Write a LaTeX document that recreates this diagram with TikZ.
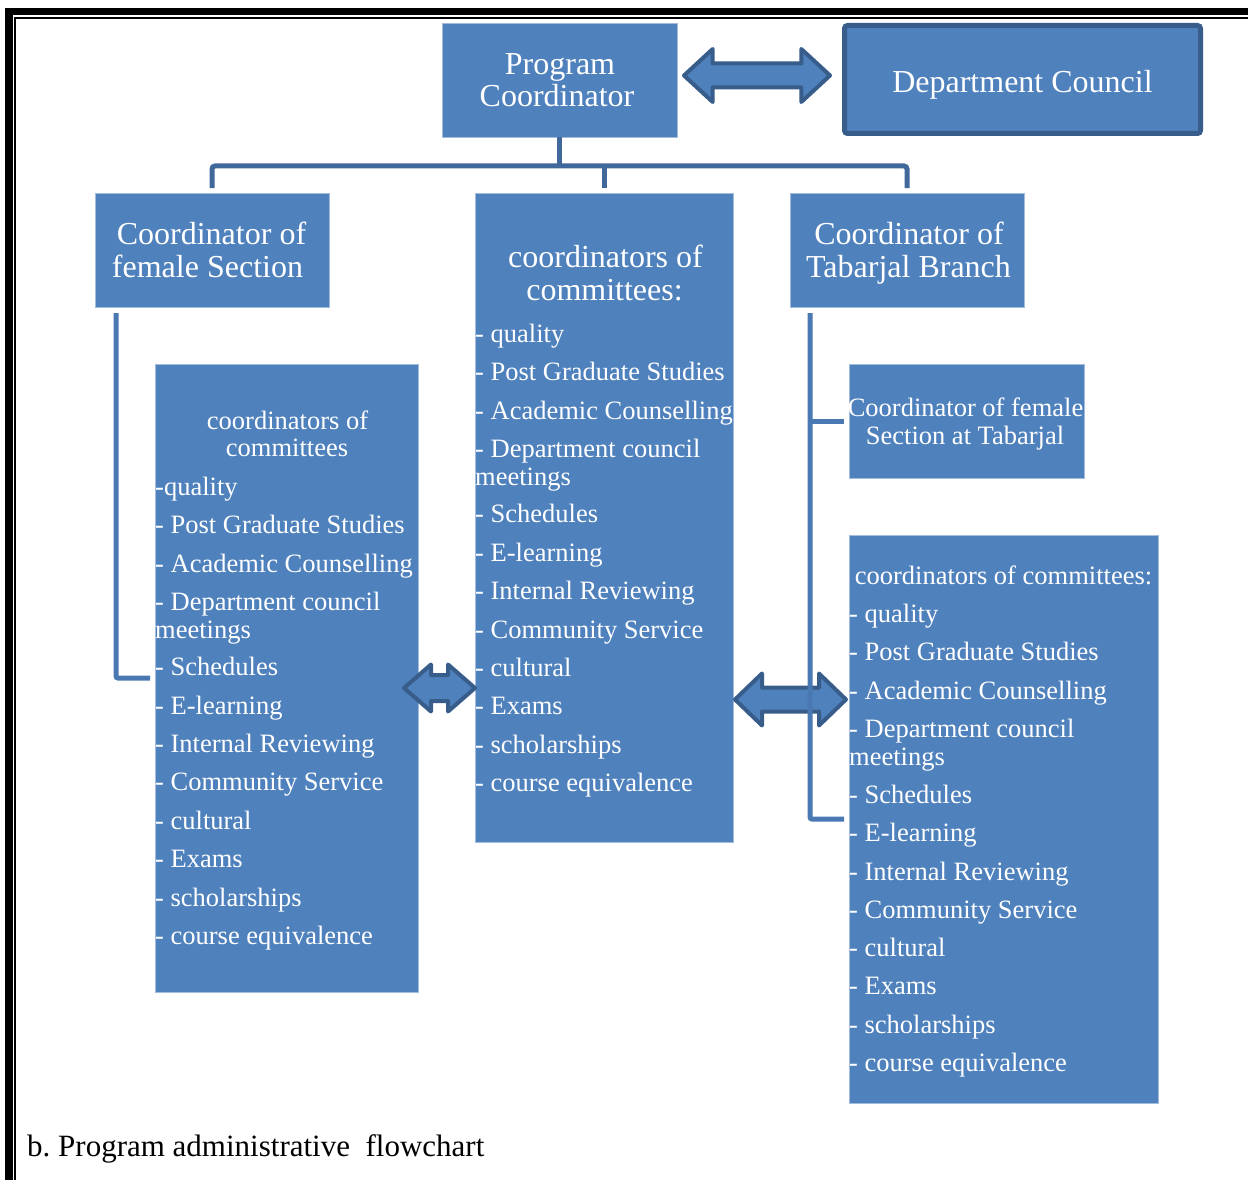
\documentclass[tikz,border=0pt]{standalone}
\usepackage{fontspec}
\setmainfont{Liberation Serif}
\frenchspacing
\definecolor{blu}{HTML}{4F81BD}
\definecolor{dk}{HTML}{385D8A}
\definecolor{treec}{HTML}{41689B}
\definecolor{brc}{HTML}{4A78B3}
\definecolor{edgec}{HTML}{A3BCDD}
\newcommand\dblarr[6]{%
  \draw[blockarr] (#1,#3) -- ({#1+#4},{#3-#5}) -- ({#1+#4},{#3-#6}) -- ({#2-#4},{#3-#6}) -- ({#2-#4},{#3-#5}) -- (#2,#3) -- ({#2-#4},{#3+#5}) -- ({#2-#4},{#3+#6}) -- ({#1+#4},{#3+#6}) -- ({#1+#4},{#3+#5}) -- cycle;}
\begin{document}
\begin{tikzpicture}[x=1pt,y=-1pt,
  bx/.style={fill=blu, draw=edgec, line width=0.8pt, inner sep=0pt, outer sep=0pt},
  big/.style={text=white, inner sep=0pt, font=\fontsize{32}{34}\selectfont},
  med/.style={text=white, inner sep=0pt, font=\fontsize{26.5}{28}\selectfont},
  tree/.style={draw=treec, line width=5pt, rounded corners=3pt},
  br/.style={draw=brc, line width=5pt, rounded corners=2pt},
  blockarr/.style={draw=dk, fill=blu, line width=4pt, line join=round}]
\useasboundingbox (0,0) rectangle (1248,1180);
\fill[white] (0,0) rectangle (1248,1180);
% page frame
\fill[black] (5,8) rectangle (1248,15.5);
\fill[black] (5,8) rectangle (12.5,1180);
\fill[black] (14,17) rectangle (1248,19);
\fill[black] (14,17) rectangle (16,1180);

% boxes
\node[bx, minimum width=235, minimum height=114] (pc) at (559.5,80) {};
\node[draw=dk, fill=blu, line width=5pt, rounded corners=3pt, inner sep=0pt, minimum width=356, minimum height=108] (dc) at (1022.5,79.5) {};
\node[bx, minimum width=234, minimum height=114] (fs) at (212,250) {};
\node[bx, minimum width=258, minimum height=649] (mc) at (604,517.5) {};
\node[bx, minimum width=234, minimum height=114] (tb) at (907,250) {};
\node[bx, minimum width=263, minimum height=628] (lc) at (286.5,678) {};
\node[bx, minimum width=235, minimum height=114] (fst) at (966.5,421) {};
\node[bx, minimum width=309, minimum height=568] (rc) at (1003.5,819) {};

% block arrows
\dblarr{684}{830}{75.5}{28.7}{26.5}{12}
\dblarr{404}{475}{688}{27}{23.5}{13}
\dblarr{735}{846}{699.5}{27}{26}{12}

% tree connectors
\draw[tree] (pc.south) -- ++(0,29);
\draw[tree] ([yshift=5pt]fs.north) -- ++(0,-22) -| ([yshift=5pt]tb.north);
\draw[tree] ([yshift=5pt]mc.north) -- ++(0,-22);
% brackets
\draw[br] ([xshift=21pt,yshift=-6pt]fs.south west) |- ([xshift=-5pt]lc.west);
\coordinate (rv) at ([xshift=20pt,yshift=-6pt]tb.south west);
\draw[br] (rv) |- ([xshift=-5pt]rc.west);
\draw[br] (rv |- fst.west) -- ([xshift=-5pt]fst.west);

% titles
\node[big, anchor=base] (pct1) at (560,75) {Program};
\node[big, anchor=base] (pct2) at (557,107) {Coordinator};
\node[big, anchor=base] (dct) at (1022.5,93) {Department Council};
\node[big, anchor=base] (fst1) at (211.5,244) {Coordinator of};
\node[big, anchor=base] (fst2) at (207.5,277) {female Section};
\node[big, anchor=base] (tbt1) at (909,244) {Coordinator of};
\node[big, anchor=base] (tbt2) at (908.5,277) {Tabarjal Branch};
\node[big, anchor=base] (mct1) at (605.5,267) {coordinators of};
\node[big, anchor=base] (mct2) at (604.5,300) {committees:};
\node[med, anchor=base] (lct1) at (287.5,429) {coordinators of};
\node[med, anchor=base] (lct2) at (287,456) {committees};
\node[med, anchor=base] (fstt1) at (965.5,416) {Coordinator of female};
\node[med, anchor=base] (fstt2) at (965,444) {Section at Tabarjal};
\node[med, anchor=base] (rct) at (1003.5,584) {coordinators of committees:};

% item lists
\foreach \t/\yy [count=\i] in {{- quality}/342,{- Post Graduate Studies}/380.5,{- Academic Counselling}/419.5,{- Department council}/457.5,{meetings}/485.5,{- Schedules}/522.5,{- E-learning}/561.5,{- Internal Reviewing}/599.5,{- Community Service}/638.5,{- cultural}/676.5,{- Exams}/714.5,{- scholarships}/753.5,{- course equivalence}/791.5}
  \node[med, anchor=base west, name=mi\i] at (475,\yy) {\t};
\foreach \t/\yy [count=\i] in {{-quality}/495,{- Post Graduate Studies}/533,{- Academic Counselling}/572,{- Department council}/610,{meetings}/638,{- Schedules}/675,{- E-learning}/714,{- Internal Reviewing}/752,{- Community Service}/790,{- cultural}/829,{- Exams}/867,{- scholarships}/906,{- course equivalence}/944}
  \node[med, anchor=base west, name=li\i] at (155,\yy) {\t};
\foreach \t/\yy [count=\i] in {{- quality}/622,{- Post Graduate Studies}/660,{- Academic Counselling}/699,{- Department council}/737,{meetings}/765,{- Schedules}/803,{- E-learning}/841,{- Internal Reviewing}/880,{- Community Service}/918,{- cultural}/956,{- Exams}/994,{- scholarships}/1033,{- course equivalence}/1071}
  \node[med, anchor=base west, name=ri\i] at (849,\yy) {\t};

% caption
\node[anchor=base west, inner sep=0pt, font=\fontsize{31}{33}\selectfont] (cap) at (27,1156) {b. Program administrative\ \ flowchart};
\end{tikzpicture}
\end{document}
